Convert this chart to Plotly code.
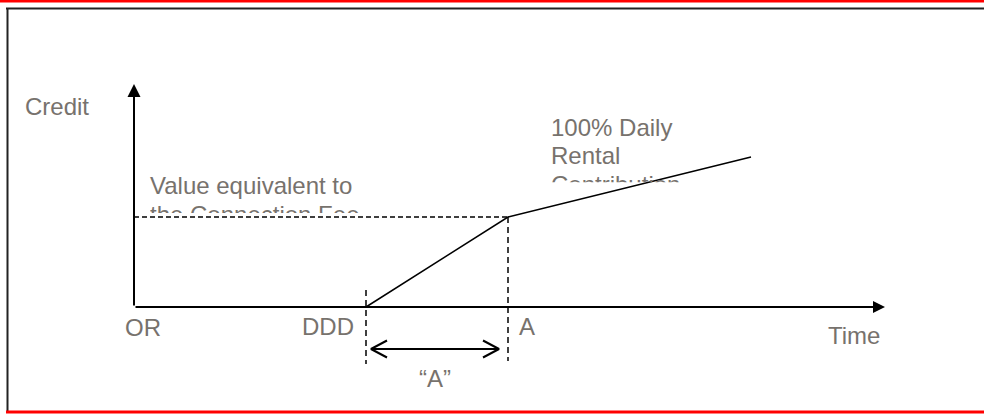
import plotly.graph_objects as go

# time points on the horizontal axis (OR = origin)
time_points = [0, 232, 374]
time_labels = ['OR', 'DDD', 'A']
time_axis_end = 751

# credit curve: zero until DDD, reaches the fee value at A, then keeps rising
curve_time = [232, 374, 617]
curve_credit = [0, 90, 150]
fee_value = 90
credit_axis_end = 223

# dashed markers below the axis and the "A" period arrow
ddd_dash = [17, -57]
a_dash_bottom = -54
period_level = -42
period_span = [237, 365]

grey = '#77726d'
font = dict(family='Liberation Sans, Arial, sans-serif', size=24, color=grey)

W, H = 984, 414


def px(x):
    return x / W


def py(y):
    return 1 - y / H


fig = go.Figure()

# credit curve
fig.add_trace(go.Scatter(x=curve_time, y=curve_credit, mode='lines',
                         line=dict(color='black', width=1.5)))

# dashed horizontal at the connection fee value
fig.add_trace(go.Scatter(x=[time_points[0], curve_time[1]], y=[fee_value, fee_value],
                         mode='lines', line=dict(color='black', width=1.3, dash='5px,3px')))

# dashed verticals at DDD and A
fig.add_trace(go.Scatter(x=[time_points[1], time_points[1]], y=ddd_dash, mode='lines',
                         line=dict(color='black', width=1.5, dash='6px,4px')))
fig.add_trace(go.Scatter(x=[time_points[2], time_points[2]], y=[fee_value, a_dash_bottom],
                         mode='lines', line=dict(color='black', width=1.5, dash='6px,4px')))

# double headed period arrow with open heads
fig.add_trace(go.Scatter(x=period_span, y=[period_level, period_level], mode='lines',
                         line=dict(color='black', width=2)))
hl, hh = 16, 8.5
for tip, d in [(period_span[0], 1), (period_span[1], -1)]:
    fig.add_trace(go.Scatter(x=[tip + d * hl, tip, tip + d * hl],
                             y=[period_level + hh, period_level, period_level - hh],
                             mode='lines', line=dict(color='black', width=2)))

annotations = []
# axes with filled arrow heads
annotations.append(dict(x=0, y=credit_axis_end, ax=0, ay=0, xref='x', yref='y', axref='x', ayref='y',
                        text='', showarrow=True, arrowhead=2, arrowsize=1.3, arrowwidth=2,
                        arrowcolor='black', standoff=0))
annotations.append(dict(x=time_axis_end, y=0, ax=0, ay=0, xref='x', yref='y', axref='x', ayref='y',
                        text='', showarrow=True, arrowhead=2, arrowsize=1.2, arrowwidth=2,
                        arrowcolor='black', standoff=0))


def label(text, x, y, xanchor='left', yanchor='middle', xshift=0, height=None):
    d = dict(text=text, x=x, y=y, xref='x', yref='y', showarrow=False, font=font,
             xanchor=xanchor, yanchor=yanchor, xshift=xshift, borderpad=0, borderwidth=0,
             align='left')
    if height is not None:
        d['height'] = height
        d['valign'] = 'top'
    annotations.append(d)


label('Credit', -109, 200.7)
label('Value equivalent to', 16, 122)
label('the Connection Fee', 16, 106, yanchor='top', height=12)
label('100% Daily', 417, 179.3)
label('Rental', 417, 151.3)
label('Contribution', 417, 136.2, yanchor='top', height=11.2)
label(time_labels[0], time_points[0], -20, xshift=-9)
label(time_labels[1], time_points[1], -19, xanchor='right', xshift=-12)
label(time_labels[2], time_points[2], -19, xshift=11)
label('\u201cA\u201d', (period_span[0] + period_span[1]) / 2, -71, xanchor='center')
label('Time', 693.7, -28)

# frame lines of the page
shapes = [
    dict(type='line', xref='paper', yref='paper', x0=0, x1=1, y0=py(1), y1=py(1),
         line=dict(color='#ff0000', width=3)),
    dict(type='line', xref='paper', yref='paper', x0=px(6), x1=1, y0=py(8.5), y1=py(8.5),
         line=dict(color='#222222', width=2)),
    dict(type='line', xref='paper', yref='paper', x0=px(7.5), x1=px(7.5), y0=py(8), y1=py(411),
         line=dict(color='#222222', width=2)),
    dict(type='line', xref='paper', yref='paper', x0=px(6), x1=1, y0=py(412), y1=py(412),
         line=dict(color='#ff0000', width=3)),
]

fig.update_layout(
    width=W, height=H,
    margin=dict(l=0, r=0, t=0, b=0),
    paper_bgcolor='white', plot_bgcolor='white',
    showlegend=False,
    xaxis=dict(range=[-134, 850], visible=False, fixedrange=True),
    yaxis=dict(range=[-107, 307], visible=False, fixedrange=True),
    annotations=annotations,
    shapes=shapes,
)

fig.write_html('out.html', config={'displayModeBar': False},
               post_script="document.body.style.margin='0';")
